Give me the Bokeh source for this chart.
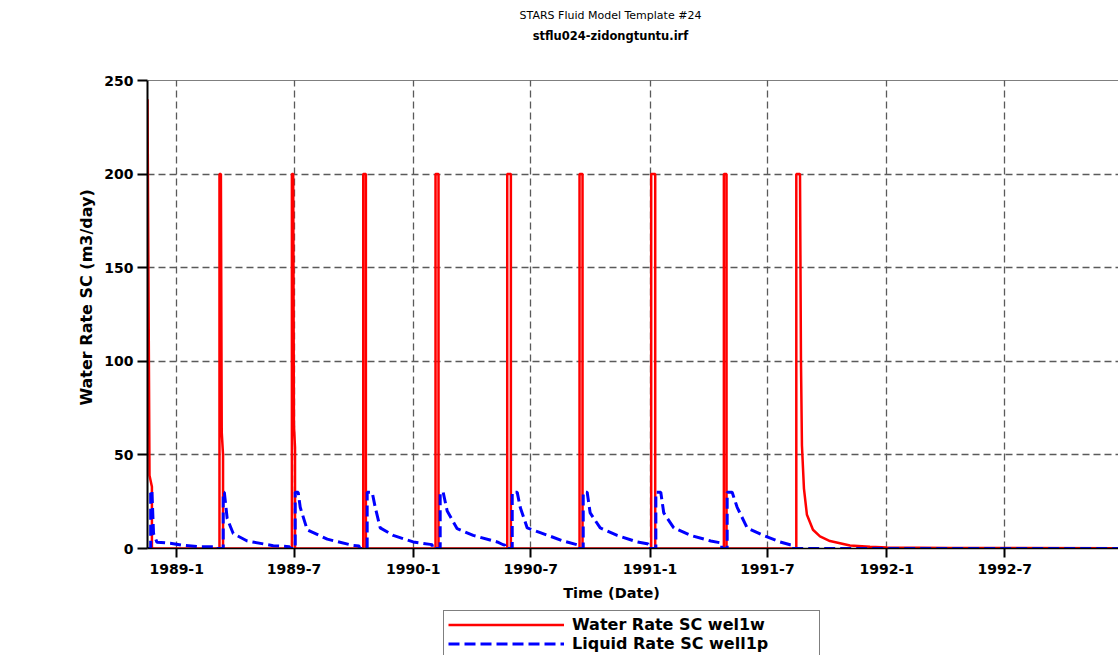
import numpy as np
import pandas as pd
from bokeh.plotting import figure
from bokeh.layouts import column
from bokeh.models import (ColumnDataSource, FixedTicker, CustomJSTickFormatter, Range1d,
                          Span, Legend, LegendItem, Title)
from bokeh.core.properties import value
from bokeh.embed import file_html
from bokeh.resources import INLINE

# ---------------- data (time in days since simulation start) ----------------
SIM_START = "1988-11-17"
X_END_DAY = 1497.5

TITLE_TOP = "STARS Fluid Model Template #24"
TITLE_SUB = "stflu024-zidongtuntu.irf"
X_LABEL = "Time (Date)"
Y_LABEL = "Water Rate SC (m3/day)"
SERIES_NAMES = ["Water Rate SC wel1w", "Liquid Rate SC well1p"]

TICK_DATES = ["1989-01-01", "1989-07-01", "1990-01-01", "1990-07-01",
              "1991-01-01", "1991-07-01", "1992-01-01", "1992-07-01"]
TICK_LABELS = ["1989-1", "1989-7", "1990-1", "1990-7",
               "1991-1", "1991-7", "1992-1", "1992-7"]
Y_TICKS = [0, 50, 100, 150, 200, 250]

# Water Rate SC wel1w (m3/day)
RED_DAYS = [0, 3.1, 6.8, 6.8,
            111.0, 111.0, 113.2, 114.5, 116.5, 116.5,
            222.7, 222.7, 224.7, 225.8, 227.5, 227.5,
            332.7, 332.7, 336.8, 336.8,
            444.2, 444.2, 448.8, 448.8,
            554.8, 554.8, 560.4, 560.4,
            666.3, 666.3, 670.9, 670.9,
            776.8, 776.8, 783.0, 783.0,
            888.9, 888.9, 893.0, 893.0,
            1000.6, 1000.6, 1006.3, 1007.8, 1009.3, 1012.4, 1017.0, 1026.3, 1037.1,
            1052.5, 1083.4, 1114.2, 1140.5, 1237.6, 1497.5]
RED_RATE = [240, 39, 33, 0,
            0, 200, 200, 62, 50, 0,
            0, 200, 200, 66, 54, 0,
            0, 200, 200, 0,
            0, 200, 200, 0,
            0, 200, 200, 0,
            0, 200, 200, 0,
            0, 200, 200, 0,
            0, 200, 200, 0,
            0, 200, 200, 100, 55, 32, 18, 10, 6.5,
            4, 1.6, 0.9, 0.5, 0.3, 0.2]

# Liquid Rate SC well1p (m3/day)
BLUE_DAYS = [0, 4.9, 4.9, 6.8, 9.3, 14.5, 35.0, 55.1, 76.7, 99.8, 107.0, 107.0,
             116.8, 116.8, 118.5, 122.9, 132.2, 153.8, 193.9, 218.5, 219.3, 219.3,
             227.8, 227.8, 232.4, 235.5, 246.3, 277.2, 317.3, 326.5, 326.5,
             338.8, 338.8, 346.5, 351.2, 358.9, 379.0, 409.8, 436.0, 439.1, 439.1,
             451.4, 451.4, 456.0, 462.2, 477.6, 502.3, 539.3, 548.6, 551.6, 551.6,
             562.5, 562.5, 570.2, 574.8, 585.6, 605.7, 641.2, 662.8, 664.3, 664.3,
             672.0, 672.0, 678.1, 682.7, 698.2, 724.4, 755.2, 770.7, 772.2, 772.2,
             784.0, 784.0, 791.6, 796.2, 811.6, 837.9, 868.7, 884.1, 885.6, 885.6,
             894.0, 894.0, 901.7, 909.4, 924.8, 949.5, 975.7, 991.1, 994.2, 994.2,
             1497.5]
BLUE_RATE = [0, 0, 31, 31, 8, 3.4, 2.8, 1.7, 1.0, 0.9, 0.9, 0,
             0, 30, 30, 16, 8, 4, 1.5, 1.0, 1.0, 0,
             0, 30, 30, 22, 10, 5, 1.6, 1.3, 0,
             0, 30, 30, 22, 11, 7, 3.5, 2.2, 2.0, 0,
             0, 30, 30, 20, 10.6, 7, 3.5, 2, 1.8, 0,
             0, 30, 30, 22, 11, 8.5, 4, 2, 1.9, 0,
             0, 30, 30, 19, 11, 7, 3.5, 2.5, 2.4, 0,
             0, 30, 30, 19, 11, 7, 4, 3, 2.9, 0,
             0, 30, 30, 22, 11, 7, 3.5, 2, 1.9, 0,
             0]

# ---------------- styles / layout ----------------
FONT = "DejaVu Sans"
W = 1118
FRAME_LEFT = 147
RED = "#ff0000"
BLUE = "#0000ff"
RED_W, BLUE_W, BLUE_DASH = 2.5, 3, "11 5"

start = pd.Timestamp(SIM_START)


def to_dt(days):
    return start + pd.to_timedelta(np.asarray(days, dtype=float), unit="D")


def blank_fig(height, y_top):
    # x and y measured in page pixels (frames of a column are aligned at FRAME_LEFT)
    f = figure(width=W, height=height, x_range=Range1d(FRAME_LEFT, W),
               y_range=Range1d(y_top + height, y_top),
               x_axis_location=None, y_axis_location=None,
               output_backend="svg", toolbar_location=None,
               min_border=0, min_border_left=FRAME_LEFT, min_border_right=0,
               min_border_top=0, min_border_bottom=0)
    f.outline_line_color = None
    f.grid.visible = False
    f.background_fill_color = "white"
    f.border_fill_color = "white"
    return f


# ---------------- header (titles) ----------------
HEAD_H = 70
head = blank_fig(HEAD_H, 0)
head.text(x=[610], y=[15], text=[TITLE_TOP], text_align="center", text_baseline="middle",
          text_font=value(FONT), text_font_size="11px", text_color="black")
head.text(x=[610], y=[35], text=[TITLE_SUB], text_align="center", text_baseline="middle",
          text_font=value(FONT), text_font_size="11.5px", text_font_style="bold",
          text_color="black")

# ---------------- main plot ----------------
red_src = ColumnDataSource(dict(t=to_dt(RED_DAYS), v=RED_RATE))
blue_src = ColumnDataSource(dict(t=to_dt(BLUE_DAYS), v=BLUE_RATE))

MAIN_H = 510
p = figure(width=W, height=MAIN_H, x_axis_type="datetime",
           x_range=Range1d(start, start + pd.Timedelta(days=X_END_DAY)),
           y_range=Range1d(0, 250),
           output_backend="svg", toolbar_location=None,
           min_border_left=FRAME_LEFT, min_border_right=0,
           min_border_top=10, min_border_bottom=32)
p.outline_line_color = None
p.background_fill_color = "white"
p.border_fill_color = "white"

tick_ms = [pd.Timestamp(d).value / 1e6 for d in TICK_DATES]
p.xaxis.ticker = FixedTicker(ticks=tick_ms)
p.xaxis.formatter = CustomJSTickFormatter(args=dict(tvals=tick_ms, tlabels=TICK_LABELS), code="""
    let best = -1, bd = Infinity;
    for (let i = 0; i < tvals.length; i++) {
        const d = Math.abs(tvals[i] - tick);
        if (d < bd) { bd = d; best = i; }
    }
    return (best >= 0 && bd < 86400000) ? tlabels[best] : "";
""")
p.yaxis.ticker = FixedTicker(ticks=Y_TICKS)

for ax in (p.xaxis, p.yaxis):
    ax.major_label_text_font = FONT
    ax.major_label_text_font_style = "bold"
    ax.major_label_text_font_size = "14px"
    ax.major_label_text_color = "black"
    ax.axis_line_color = "black"
    ax.major_tick_line_color = "black"
    ax.major_tick_line_width = 2
    ax.major_tick_in = 0
    ax.minor_tick_line_color = None

p.xaxis.major_tick_out = 9
p.xaxis.axis_line_width = 1.5
p.xaxis.major_label_standoff = 6

p.yaxis.major_tick_out = 10
p.yaxis.axis_line_width = 2
p.yaxis.major_label_standoff = 4

ylab = Title(text=Y_LABEL, text_font=FONT, text_font_style="bold", text_font_size="16px",
             text_color="black", align="left", offset=143, vertical_align="middle",
             standoff=10)
p.add_layout(ylab, "left")

p.grid.grid_line_color = "#5a5a5a"
p.grid.grid_line_dash = "7 4"
p.grid.grid_line_width = 1.3

p.add_layout(Span(location=250, dimension="width", line_color="black", line_width=1))

p.line("t", "v", source=red_src, line_color=RED, line_width=RED_W)
p.line("t", "v", source=blue_src, line_color=BLUE, line_width=BLUE_W, line_dash=BLUE_DASH)

# ---------------- x label + legend strip ----------------
STRIP_TOP = 580
STRIP_H = 75
lg = blank_fig(STRIP_H, STRIP_TOP)
lg.text(x=[611], y=[592], text=[X_LABEL], text_align="center", text_baseline="middle",
        text_font=value(FONT), text_font_size="14.5px", text_font_style="bold",
        text_color="black")
nan_src = ColumnDataSource(dict(x=[np.nan], y=[np.nan]))
lr = lg.line("x", "y", source=nan_src, line_color=RED, line_width=RED_W)
lb = lg.line("x", "y", source=nan_src, line_color=BLUE, line_width=BLUE_W, line_dash=BLUE_DASH)
legend = Legend(items=[LegendItem(label=SERIES_NAMES[0], renderers=[lr]),
                       LegendItem(label=SERIES_NAMES[1], renderers=[lb])],
                location=(443 - FRAME_LEFT, -3), orientation="vertical",
                label_text_font=FONT, label_text_font_style="bold",
                label_text_font_size="16px", label_text_color="black",
                glyph_width=116, glyph_height=17, label_height=17, label_width=243,
                label_standoff=8, spacing=0, padding=4, margin=0,
                border_line_color="black", border_line_width=1.5,
                background_fill_color="white", background_fill_alpha=1.0)
lg.add_layout(legend, "center")

layout = column(head, p, lg, spacing=0)
open("out.html", "w").write(file_html(layout, INLINE))
